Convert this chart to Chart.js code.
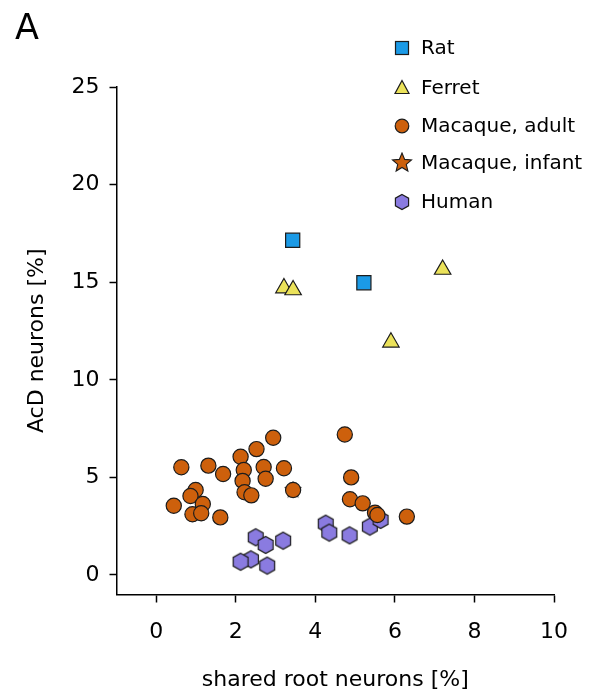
<!DOCTYPE html>
<html>
<head>
<meta charset="utf-8">
<script src="https://cdn.jsdelivr.net/npm/chart.js@4.4.0/dist/chart.umd.min.js"></script>
<style>
  html, body { margin: 0; padding: 0; background: #fff; }
  #wrap { position: relative; width: 597px; height: 694px; }
  #panel { position: absolute; left: 15px; top: 7px; font: 35px "DejaVu Sans", sans-serif; color: #000; }
</style>
</head>
<body>
<div id="wrap">
  <canvas id="chart" width="597" height="694"></canvas>
  <div id="panel">A</div>
</div>
<script>
const xTicks = [0, 2, 4, 6, 8, 10];
const yTicks = [0, 5, 10, 15, 20, 25];

const ratX = [3.43, 5.22];
const ratY = [17.15, 14.97];

const ferretX = [3.21, 3.44, 7.2, 5.9];
const ferretY = [14.7, 14.6, 15.65, 11.92];

const macAdultX = [2.94, 2.52, 2.12, 0.63, 1.31, 1.68, 2.2, 2.7, 3.21, 2.75, 2.17, 2.22, 2.39, 0.99,
  0.86, 1.17, 0.44, 0.91, 1.13, 1.61, 4.74, 4.9, 4.87, 5.19, 5.5, 5.56, 6.3, 3.44];
const macAdultY = [7.03, 6.45, 6.06, 5.52, 5.6, 5.17, 5.38, 5.53, 5.47, 4.93, 4.82, 4.24, 4.08, 4.35,
  4.05, 3.64, 3.55, 3.11, 3.16, 2.95, 7.2, 5.0, 3.88, 3.67, 3.19, 3.07, 2.99, 4.35];

const macInfantX = [3.44];
const macInfantY = [4.35];

const humanX = [2.5, 2.75, 3.19, 2.38, 2.12, 2.79, 4.26, 4.35, 4.86, 5.37, 5.64];
const humanY = [1.93, 1.54, 1.76, 0.8, 0.68, 0.48, 2.63, 2.17, 2.03, 2.48, 2.82];

const names = ["Rat", "Ferret", "Macaque, adult", "Macaque, infant", "Human"];
const colors = ["#1b9ae6", "#ebe25a", "#cd600c", "#cd600c", "#8a7be0"];
const edge = "#1c1c1c";
const fontFamily = "'DejaVu Sans', sans-serif";

function pts(xs, ys) { return xs.map((x, i) => ({ x: x, y: ys[i] })); }

function hexImage(r) {
  const c = document.createElement("canvas");
  const s = Math.ceil(r * 2 + 2);
  c.width = s; c.height = s;
  const g = c.getContext("2d");
  g.beginPath();
  for (let k = 0; k < 6; k++) {
    const a = -Math.PI / 2 + k * Math.PI / 3;
    const px = s / 2 + r * Math.cos(a), py = s / 2 + r * Math.sin(a);
    k ? g.lineTo(px, py) : g.moveTo(px, py);
  }
  g.closePath();
  g.fillStyle = colors[4]; g.fill();
  g.lineWidth = 1.2; g.strokeStyle = edge; g.stroke();
  return c;
}

function starImage(r) {
  const c = document.createElement("canvas");
  const s = Math.ceil(r * 2 + 2);
  c.width = s; c.height = s;
  const g = c.getContext("2d");
  g.beginPath();
  for (let k = 0; k < 10; k++) {
    const a = -Math.PI / 2 + k * Math.PI / 5;
    const rr = k % 2 ? r * 0.45 : r;
    const px = s / 2 + rr * Math.cos(a), py = s / 2 + rr * Math.sin(a);
    k ? g.lineTo(px, py) : g.moveTo(px, py);
  }
  g.closePath();
  g.fillStyle = colors[3]; g.fill();
  g.lineWidth = 1.1; g.strokeStyle = edge; g.stroke();
  return c;
}

const hexBig = hexImage(8.6), hexSmall = hexImage(7.6);
const starBig = starImage(8), starSmall = starImage(10);

// legend drawn by hand, the reference has it stacked at top right
const legendPlugin = {
  id: "sideLegend",
  afterDraw(chart) {
    const ctx = chart.ctx;
    const rows = [48, 88, 126, 163, 202];
    ctx.save();
    ctx.font = "20px " + fontFamily;
    ctx.textBaseline = "middle";
    rows.forEach((y, i) => {
      const x = 402;
      ctx.lineWidth = 1.2;
      ctx.strokeStyle = edge;
      ctx.fillStyle = colors[i];
      if (i === 0) {
        ctx.fillRect(x - 6.5, y - 6.5, 13, 13);
        ctx.strokeRect(x - 6.5, y - 6.5, 13, 13);
      } else if (i === 1) {
        ctx.beginPath();
        ctx.moveTo(x, y - 7.5); ctx.lineTo(x + 7, y + 5.5); ctx.lineTo(x - 7, y + 5.5);
        ctx.closePath(); ctx.fill(); ctx.stroke();
      } else if (i === 2) {
        ctx.beginPath(); ctx.arc(x, y, 6.8, 0, Math.PI * 2); ctx.fill(); ctx.stroke();
      } else if (i === 3) {
        ctx.drawImage(starSmall, x - starSmall.width / 2, y - starSmall.height / 2);
      } else {
        ctx.drawImage(hexSmall, x - hexSmall.width / 2, y - hexSmall.height / 2);
      }
      ctx.fillStyle = "#000";
      ctx.fillText(names[i], 421, y + 1);
    });
    ctx.restore();
  }
};

const tickFont = { family: fontFamily, size: 22 };

new Chart(document.getElementById("chart"), {
  type: "scatter",
  data: {
    datasets: [
      { label: names[0], data: pts(ratX, ratY), pointStyle: "rect", pointRadius: 10,
        backgroundColor: colors[0], borderColor: edge, borderWidth: 1.2 },
      { label: names[1], data: pts(ferretX, ferretY), pointStyle: "triangle", pointRadius: 9.5,
        backgroundColor: colors[1], borderColor: edge, borderWidth: 1.2 },
      { label: names[2], data: pts(macAdultX, macAdultY), pointStyle: "circle", pointRadius: 7.6,
        backgroundColor: colors[2], borderColor: edge, borderWidth: 1.2 },
      { label: names[3], data: pts(macInfantX, macInfantY), pointStyle: starBig, pointRadius: 8,
        backgroundColor: colors[3], borderColor: edge },
      { label: names[4], data: pts(humanX, humanY), pointStyle: hexBig, pointRadius: 8.6,
        backgroundColor: colors[4], borderColor: edge }
    ]
  },
  options: {
    responsive: false,
    animation: false,
    events: [],
    layout: { padding: { top: 87, right: 43, left: 0, bottom: 0 } },
    plugins: { legend: { display: false }, tooltip: { enabled: false } },
    scales: {
      x: {
        type: "linear", min: -1, max: 10,
        afterBuildTicks: (s) => { s.ticks = xTicks.map(v => ({ value: v })); },
        afterFit: (s) => { s.height = 99.5; },
        border: { display: true, color: "#000", width: 1.5 },
        grid: { drawOnChartArea: false, color: "#000", tickLength: 8, tickWidth: 1.5 },
        ticks: { color: "#000", font: tickFont, padding: 17, maxRotation: 0 },
        title: { display: true, text: "shared root neurons [%]", color: "#000",
          font: tickFont, padding: { top: 0, bottom: 1 } }
      },
      y: {
        type: "linear", min: -1, max: 25,
        afterBuildTicks: (s) => { s.ticks = yTicks.map(v => ({ value: v })); },
        afterFit: (s) => { s.width = 116.5; },
        border: { display: true, color: "#000", width: 1.5 },
        grid: { drawOnChartArea: false, color: "#000", tickLength: 7, tickWidth: 1.5 },
        ticks: { color: "#000", font: tickFont, padding: 10 },
        title: { display: true, text: "AcD neurons [%]", color: "#000",
          font: tickFont, padding: { top: 24, bottom: 0 } }
      }
    }
  },
  plugins: [legendPlugin]
});
</script>
</body>
</html>
